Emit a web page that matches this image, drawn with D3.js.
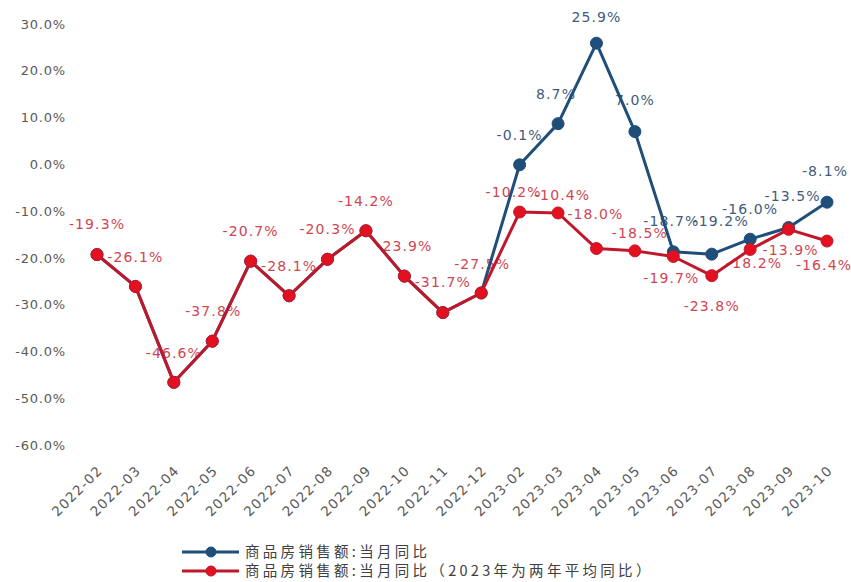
<!DOCTYPE html>
<html>
<head>
<meta charset="utf-8">
<script src="https://cdn.jsdelivr.net/npm/d3@7"></script>
<style>
  body { margin: 0; background: #ffffff; }
  svg { display: block; }
</style>
</head>
<body>
<svg id="chart" width="851" height="582"></svg>
<script>
// Monthly categories (January 2023 is merged into February)
const months = [
  "2022-02", "2022-03", "2022-04", "2022-05", "2022-06", "2022-07",
  "2022-08", "2022-09", "2022-10", "2022-11", "2022-12",
  "2023-02", "2023-03", "2023-04", "2023-05", "2023-06", "2023-07",
  "2023-08", "2023-09", "2023-10"
];

// Commodity housing sales, month-on-year change (%)
const salesYoY = [
  -19.3, -26.1, -46.6, -37.8, -20.7, -28.1, -20.3, -14.2, -23.9, -31.7, -27.5,
  -0.1, 8.7, 25.9, 7.0, -18.7, -19.2, -16.0, -13.5, -8.1
];

// Same measure, with 2023 expressed as the two-year average change (%)
const salesYoYTwoYearAvg = [
  -19.3, -26.1, -46.6, -37.8, -20.7, -28.1, -20.3, -14.2, -23.9, -31.7, -27.5,
  -10.2, -10.4, -18.0, -18.5, -19.7, -23.8, -18.2, -13.9, -16.4
];

const yTickValues = [-60, -50, -40, -30, -20, -10, 0, 10, 20, 30];

const seriesNames = [
  "商品房销售额:当月同比",
  "商品房销售额:当月同比（2023年为两年平均同比）"
];

// Label nudges [dx, dy] in px relative to each marker, to keep labels readable
const blueLabelNudge = {
  11: [0, -30], 12: [-2, -30], 13: [0, -26], 14: [0, -31], 15: [-2, -31],
  16: [9, -33], 17: [0, -30], 18: [4, -31], 19: [-2, -31]
};
const redLabelNudge = [
  [0, -31], [0, -29], [0, -29], [1, -30], [0, -30], [0, -30], [0, -30],
  [0, -30], [0, -30], [0, -31], [1, -29], [-6, -20], [4, -18], [-1, -34],
  [5, -18], [-2, 22], [0, 30], [4, 14], [2, 21], [-3, 24]
];

const colors = {
  blueLine: "#1f4e79",
  blueLabel: "#3f5b7d",
  redLine: "#c0182b",
  redMarker: "#e3111f",
  redLabel: "#cf4551",
  axisText: "#595959",
  legendText: "#404040"
};

const svg = d3.select("#chart");

const x = d3.scalePoint().domain(months).range([97, 827]);
const y = d3.scaleLinear().domain([-60, 30]).range([445, 24]);

const numFont = "'DejaVu Sans', sans-serif";
const fmt = v => v.toFixed(1) + "%";

// Y axis: labels only
const yAxis = d3.axisLeft(y).tickValues(yTickValues).tickSize(0).tickPadding(0)
  .tickFormat(fmt);
const gy = svg.append("g").attr("transform", "translate(66,0)").call(yAxis);
gy.select(".domain").remove();
gy.selectAll("text")
  .attr("fill", colors.axisText)
  .style("font-family", numFont)
  .style("font-size", "13px")
  .style("letter-spacing", "0.8px");

// X axis: rotated month labels
const xAxis = d3.axisBottom(x).tickSize(0).tickPadding(0);
const gx = svg.append("g").call(xAxis);
gx.select(".domain").remove();
gx.selectAll(".tick").attr("transform", d => `translate(${x(d) + 3},468)`);
gx.selectAll("text")
  .attr("y", 0).attr("x", 0).attr("dy", "0.35em")
  .attr("transform", "rotate(-45)")
  .attr("text-anchor", "end")
  .attr("fill", colors.axisText)
  .style("font-family", numFont)
  .style("font-size", "13.5px")
  .style("letter-spacing", "1.2px");

// Data labels (drawn beneath the lines)
const labels = svg.append("g")
  .style("font-family", numFont)
  .style("font-size", "14px")
  .style("letter-spacing", "1.1px")
  .attr("text-anchor", "middle");

labels.selectAll("text.blue")
  .data(months.map((m, i) => ({ m, i, v: salesYoY[i] }))
    .filter(d => d.v !== salesYoYTwoYearAvg[d.i]))
  .join("text")
  .attr("class", "blue")
  .attr("x", d => x(d.m) + blueLabelNudge[d.i][0])
  .attr("y", d => y(d.v) + blueLabelNudge[d.i][1])
  .attr("dy", "0.35em")
  .attr("fill", colors.blueLabel)
  .text(d => fmt(d.v));

labels.selectAll("text.red")
  .data(months.map((m, i) => ({ m, i, v: salesYoYTwoYearAvg[i] })))
  .join("text")
  .attr("class", "red")
  .attr("x", d => x(d.m) + redLabelNudge[d.i][0])
  .attr("y", d => y(d.v) + redLabelNudge[d.i][1])
  .attr("dy", "0.35em")
  .attr("fill", colors.redLabel)
  .text(d => fmt(d.v));

// Lines and markers
const line = d3.line().x((d, i) => x(months[i])).y(d => y(d));

function drawSeries(values, stroke, fill, markerStroke) {
  const g = svg.append("g");
  g.append("path")
    .datum(values)
    .attr("d", line)
    .attr("fill", "none")
    .attr("stroke", stroke)
    .attr("stroke-width", 3)
    .attr("stroke-linejoin", "round");
  g.selectAll("circle")
    .data(values)
    .join("circle")
    .attr("cx", (d, i) => x(months[i]))
    .attr("cy", d => y(d))
    .attr("r", 6)
    .attr("fill", fill)
    .attr("stroke", markerStroke)
    .attr("stroke-width", 1);
}

drawSeries(salesYoY, colors.blueLine, colors.blueLine, colors.blueLine);
drawSeries(salesYoYTwoYearAvg, colors.redLine, colors.redMarker, colors.redLine);

// Legend
const legendRows = [
  { name: seriesNames[0], line: colors.blueLine, fill: colors.blueLine, edge: colors.blueLine, y: 552 },
  { name: seriesNames[1], line: colors.redLine, fill: colors.redMarker, edge: colors.redLine, y: 571 }
];
const legend = svg.append("g");
legendRows.forEach(r => {
  legend.append("line")
    .attr("x1", 182).attr("x2", 239).attr("y1", r.y).attr("y2", r.y)
    .attr("stroke", r.line).attr("stroke-width", 3);
  legend.append("circle")
    .attr("cx", 211).attr("cy", r.y).attr("r", 5)
    .attr("fill", r.fill).attr("stroke", r.edge);
  legend.append("text")
    .attr("x", 245).attr("y", r.y).attr("dy", "0.35em")
    .attr("fill", colors.legendText)
    .style("font-family", "'Noto Sans CJK SC', sans-serif")
    .style("font-size", "14.5px")
    .style("letter-spacing", "3.3px")
    .text(r.name);
});
</script>
</body>
</html>
